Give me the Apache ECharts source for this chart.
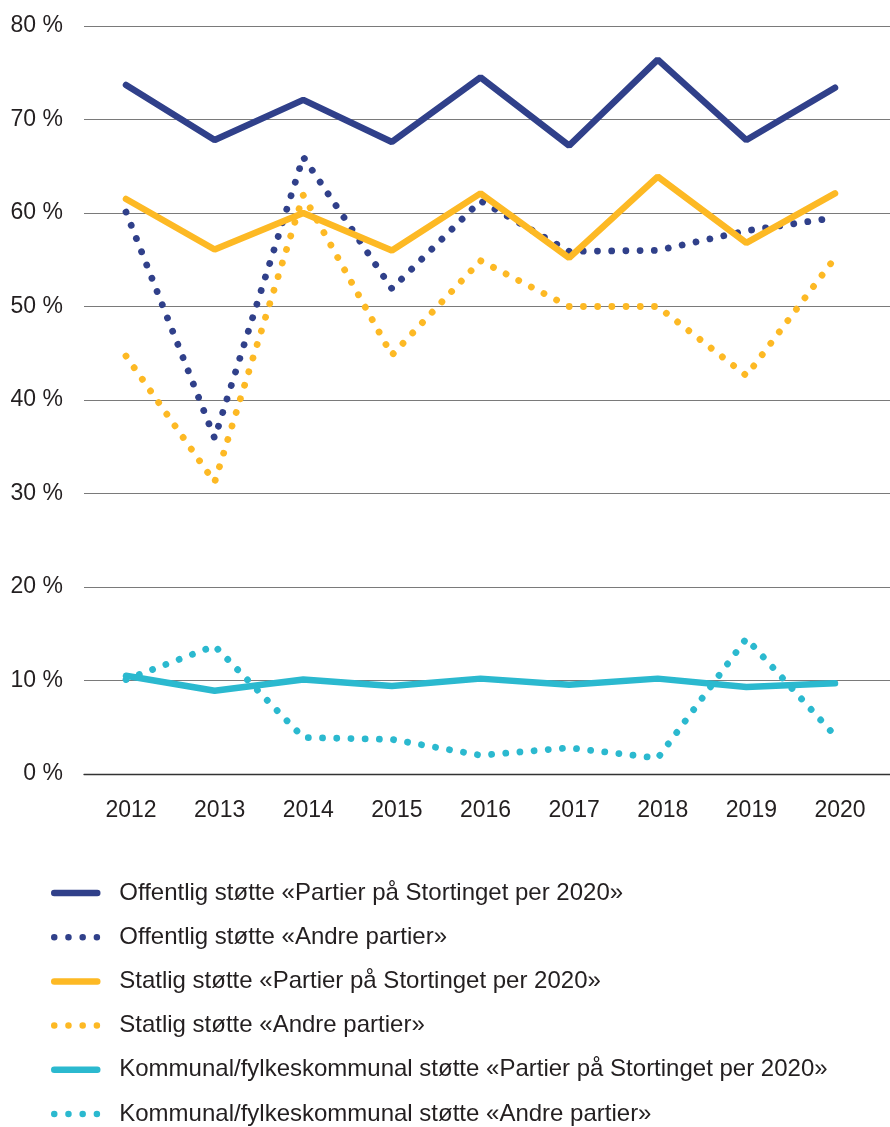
<!DOCTYPE html>
<html>
<head>
<meta charset="utf-8">
<script src="https://cdn.jsdelivr.net/npm/echarts@6/dist/echarts.min.js"></script>
<style>
html,body{margin:0;padding:0;background:#fff;}
#chart{width:890px;height:1127px;}
</style>
</head>
<body>
<div id="chart"></div>
<script>
var years = ['2012','2013','2014','2015','2016','2017','2018','2019','2020'];
var seriesNames = [
  'Offentlig støtte «Partier på Stortinget per 2020»',
  'Offentlig støtte «Andre partier»',
  'Statlig støtte «Partier på Stortinget per 2020»',
  'Statlig støtte «Andre partier»',
  'Kommunal/fylkeskommunal støtte «Partier på Stortinget per 2020»',
  'Kommunal/fylkeskommunal støtte «Andre partier»'
];
var offentligStorting = [73.7, 67.8, 72.1, 67.6, 74.5, 67.2, 76.4, 67.8, 73.4];
var offentligAndre    = [60.1, 35.9, 66.0, 51.9, 61.3, 55.9, 56.0, 58.1, 59.5];
var statligStorting   = [61.5, 56.1, 60.0, 56.0, 62.1, 55.2, 63.9, 56.8, 62.1];
var statligAndre      = [44.7, 31.2, 61.9, 44.8, 54.9, 50.0, 50.0, 42.6, 55.2];
var kommunalStorting  = [10.5, 8.9, 10.1, 9.4, 10.2, 9.55, 10.2, 9.3, 9.7];
var kommunalAndre     = [10.1, 13.7, 3.9, 3.7, 2.0, 2.8, 1.7, 14.5, 4.1];
var yTicks = [0, 10, 20, 30, 40, 50, 60, 70, 80];

var NAVY = '#30408a', YELLOW = '#fdb924', CYAN = '#2bb9cf';
var FONT = '"Liberation Sans", Arial, Helvetica, sans-serif';
var TXT = '#231f20';

function solid(name, data, color) {
  return {
    name: name, type: 'line', xAxisIndex: 1, yAxisIndex: 1, data: data,
    symbol: 'none', showSymbol: false, silent: true, animation: false,
    lineStyle: { color: color, width: 6.5, cap: 'round' },
    itemStyle: { color: color }
  };
}
function dotted(name, data, color) {
  return {
    name: name, type: 'line', xAxisIndex: 1, yAxisIndex: 1, data: data,
    symbol: 'none', showSymbol: false, silent: true, animation: false,
    lineStyle: { color: color, width: 6.8, type: [0.01, 14.2], cap: 'round' },
    itemStyle: { color: color }
  };
}

var chart = echarts.init(document.getElementById('chart'), null, { renderer: 'canvas' });
chart.setOption({
  backgroundColor: '#fff',
  animation: false,
  textStyle: { fontFamily: FONT },
  grid: [
    { left: 84, right: 0, top: 26, bottom: 353 },
    { left: 126, right: 55, top: 26, bottom: 353 }
  ],
  xAxis: [
    { gridIndex: 0, type: 'value', min: 0, max: 1,
      axisLine: { show: true, onZero: false, lineStyle: { color: '#333', width: 1.3 } },
      axisTick: { show: false }, axisLabel: { show: false }, splitLine: { show: false } },
    { gridIndex: 1, type: 'category', data: years, boundaryGap: false,
      axisLine: { show: false }, axisTick: { show: false }, splitLine: { show: false },
      axisLabel: { fontSize: 23, color: TXT, fontFamily: FONT, margin: 25, padding: [0, 0, 0, 10] } }
  ],
  yAxis: [
    { gridIndex: 0, type: 'value', min: yTicks[0], max: yTicks[yTicks.length - 1], interval: 10,
      axisLine: { show: false }, axisTick: { show: false },
      axisLabel: { fontSize: 23, color: TXT, fontFamily: FONT, margin: 21, formatter: '{value} %' },
      splitLine: { show: true, lineStyle: { color: '#7a7a7a', width: 1 } } },
    { gridIndex: 1, type: 'value', min: 0, max: 80, interval: 10, show: false,
      splitLine: { show: false } }
  ],
  legend: {
    orient: 'vertical', left: 51, top: 880, height: 300, padding: 0,
    itemWidth: 43, itemHeight: 20, itemGap: 18.2,
    selectedMode: false,
    itemStyle: { color: 'transparent', opacity: 0, borderWidth: 0 },
    lineStyle: { width: 6.5 },
    textStyle: { fontSize: 24, color: TXT, fontFamily: FONT, lineHeight: 26, padding: [0, 0, 0, 17] },
    data: seriesNames
  },
  series: [
    solid(seriesNames[0], offentligStorting, NAVY),
    dotted(seriesNames[1], offentligAndre, NAVY),
    solid(seriesNames[2], statligStorting, YELLOW),
    dotted(seriesNames[3], statligAndre, YELLOW),
    solid(seriesNames[4], kommunalStorting, CYAN),
    dotted(seriesNames[5], kommunalAndre, CYAN)
  ]
});
</script>
</body>
</html>
